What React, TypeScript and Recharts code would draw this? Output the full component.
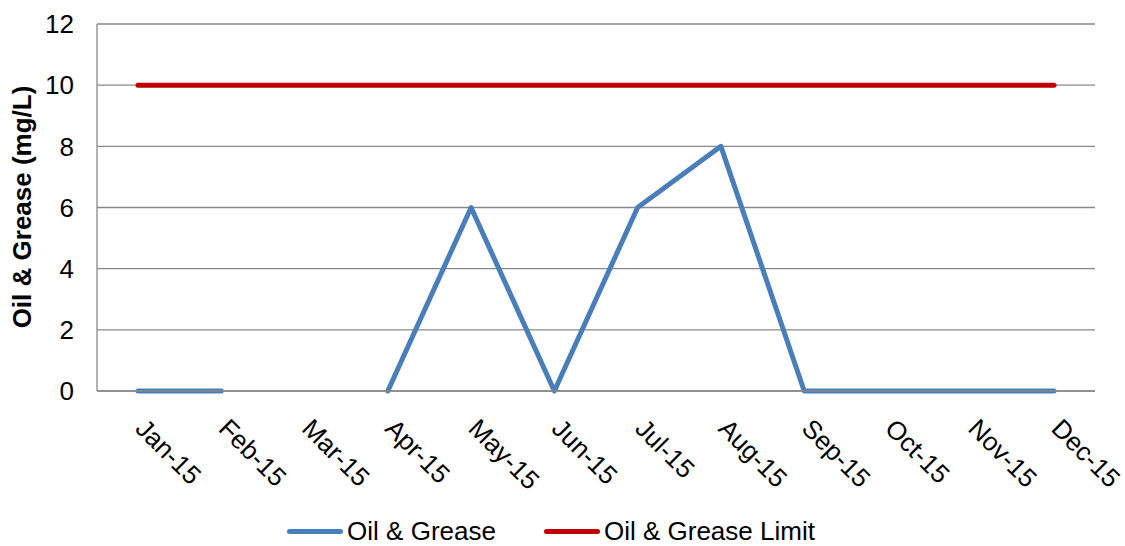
import React from "react"
import {
  LineChart, Line, XAxis, YAxis, CartesianGrid, Legend, Label,
} from "recharts"

const months = ["Jan-15", "Feb-15", "Mar-15", "Apr-15", "May-15", "Jun-15",
  "Jul-15", "Aug-15", "Sep-15", "Oct-15", "Nov-15", "Dec-15"]
const oilGrease: (number | null)[] = [0, 0, null, 0, 6, 0, 6, 8, 0, 0, 0, 0]
const oilGreaseLimit = [10, 10, 10, 10, 10, 10, 10, 10, 10, 10, 10, 10]
const yTicks = [0, 2, 4, 6, 8, 10, 12]

const BLUE = "#4a7ebb"
const RED = "#c00000"
const GRID = "#898989"
const FONT = "'Liberation Sans', Arial, sans-serif"
const FS = 26

const data = months.map((m, i) => ({
  month: m,
  og: oilGrease[i],
  limit: oilGreaseLimit[i],
}))

function MonthTick({ x, y, payload }: any) {
  const x0 = x - 4
  const y0 = y + 31
  return (
    <text x={x0} y={y0} transform={`rotate(45 ${x0} ${y0})`} textAnchor="start"
      fontFamily={FONT} fontSize={FS} fill="#000">
      {payload.value}
    </text>
  )
}

function LegendBox() {
  const items = [
    { name: "Oil & Grease", color: BLUE },
    { name: "Oil & Grease Limit", color: RED },
  ]
  return (
    <div style={{
      height: 40, paddingTop: 10, boxSizing: "border-box", display: "flex",
      justifyContent: "center", alignItems: "center", gap: 48,
      fontFamily: FONT, fontSize: FS, color: "#000", marginLeft: 7,
    }}>
      {items.map(it => (
        <div key={it.name} style={{ display: "flex", alignItems: "center" }}>
          <span style={{
            display: "inline-block", width: 56, height: 5, borderRadius: 3,
            background: it.color, marginRight: 4,
          }} />
          <span>{it.name}</span>
        </div>
      ))}
    </div>
  )
}

export default function App() {
  return (
    <div style={{ position: "absolute", left: 0, top: 0, background: "#fff" }}>
      <LineChart width={1125} height={546} data={data}
        margin={{ top: 24, right: 30, left: 0, bottom: 0 }}>
        <CartesianGrid horizontal vertical={false} stroke={GRID} strokeWidth={1.3} />
        <XAxis
          dataKey="month"
          height={115}
          padding={{ left: 41, right: 41 }}
          tickLine={false}
          axisLine={{ stroke: GRID, strokeWidth: 1.3 }}
          tick={<MonthTick />}
          interval={0}
        />
        <YAxis
          width={97}
          domain={[0, 12]}
          ticks={yTicks}
          tickLine={false}
          tickMargin={17}
          axisLine={{ stroke: GRID, strokeWidth: 1.3 }}
          tick={{ fill: "#000", fontSize: FS, fontFamily: FONT }}
        >
          <Label content={() => (
            <text x={31} y={207} transform="rotate(-90 31 207)" textAnchor="middle"
              fontFamily={FONT} fontSize={FS} fontWeight="bold" fill="#000">
              Oil &amp; Grease (mg/L)
            </text>
          )} />
        </YAxis>
        <Legend verticalAlign="bottom" content={() => <LegendBox />} />
        <Line dataKey="og" name="Oil & Grease" stroke={BLUE} strokeWidth={5}
          strokeLinecap="round" strokeLinejoin="round" dot={false}
          connectNulls={false} isAnimationActive={false} />
        <Line dataKey="limit" name="Oil & Grease Limit" stroke={RED} strokeWidth={5}
          strokeLinecap="round" dot={false} isAnimationActive={false} />
      </LineChart>
    </div>
  )
}
